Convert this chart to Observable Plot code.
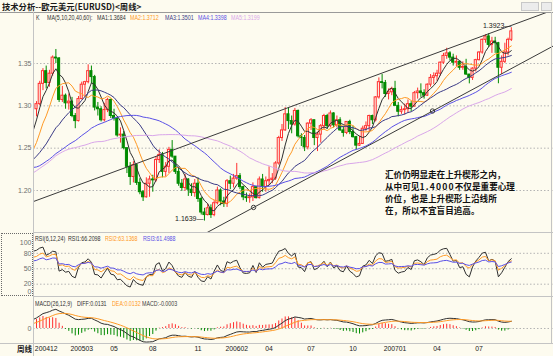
<!DOCTYPE html>
<html><head><meta charset="utf-8">
<script src="https://cdn.jsdelivr.net/npm/d3@7"></script>
<script src="https://cdn.jsdelivr.net/npm/@observablehq/plot@0.6"></script>
<style>
html,body{margin:0;padding:0;background:#fdfbef;}
#root{position:relative;width:553px;height:356px;overflow:hidden;background:#fdfbef;font-family:"Liberation Sans",sans-serif;}
.abs{position:absolute;white-space:nowrap;line-height:1;}
.hl{position:absolute;height:0;border-top:1px solid #c4c4c4;}
.vl{position:absolute;width:0;border-left:1px solid #c4c4c4;}
.leg{position:absolute;white-space:nowrap;line-height:1;font-size:7px;transform:scaleX(0.76);transform-origin:0 0;}
svg{position:absolute;}
</style></head><body><div id="root"></div>
<script>
// ---------- data (weekly EUR/USD) ----------
// closes of the weeks before the first visible candle (warm-up for the indicators)
const leadInClose = [1.1000,1.1250,1.1450,1.1550,1.1650,1.1800,1.1650,1.1700,1.1580,1.1450,1.1700,1.1800,1.1950,1.2200,1.2250,1.2350,1.2450,1.2600,
1.2750,1.2650,1.2500,1.2450,1.2650,1.2800,1.2650,1.2450,1.2200,1.2350,1.2300,1.2200,1.2050,1.2050,1.1950,1.1900,1.1950,1.1950,1.1900,1.2000,1.2200,1.2300,1.2050,1.2150,1.2150,1.2250,1.2400,1.2400,1.2250,1.2100,1.2300,1.2300,1.2300,1.2050,1.2150,1.2200,1.2150,1.2250,1.2400,1.2300,1.2400,1.2550,1.2750,1.2900,1.2950];

const open = [1.2960,1.3020,1.3260,1.3410,1.3270,1.3380,1.3570,
1.3560,1.3070,1.3120,1.3030,1.3050,1.2880,1.2820,1.3080,1.3250,1.3280,
1.3410,1.3340,1.2980,1.2960,1.2830,1.2950,1.3070,1.2880,1.2850,1.2650,
1.2660,1.2500,1.2280,1.2160,1.2300,1.2090,1.1980,1.1920,1.2080,1.2130,
1.2120,1.2360,1.2420,1.2220,1.2280,1.2480,1.2400,1.2220,1.2080,1.2030,
1.2130,1.2010,1.1970,1.2080,1.1900,1.1740,1.1710,1.1790,1.1710,1.1850,1.2000,1.1870,
1.1840,1.2110,1.2080,1.2140,1.2170,1.2040,1.1920,1.1910,1.1920,1.2040,
1.1910,1.2130,1.2040,1.2110,1.2125,1.2140,1.2320,1.2620,1.2710,1.2900,
1.2820,1.2780,1.2940,1.2640,1.2620,1.2510,1.2790,1.2830,1.2620,1.2660,
1.2760,1.2880,1.2760,1.2910,1.2770,1.2830,1.2710,1.2680,1.2810,1.2690,
1.2630,1.2530,1.2550,1.2730,1.2760,1.2880,1.2830,1.3100,1.3280,1.3270,1.3140,1.3160,
1.3200,1.3000,1.2930,1.2950,1.2960,1.3020,1.2990,1.3150,1.3170,1.3150,
1.3120,1.3250,1.3330,1.3350,1.3380,1.3510,1.3590,1.3620,1.3570,1.3510,
1.3520,1.3450,1.3460,1.3370,1.3330,1.3440,1.3540,1.3630,1.3780,1.3820,
1.3720,1.3760,1.3740,1.3450,1.3520,1.3630,1.3780];

const high = [1.3050,1.3290,1.3440,1.3470,1.3420,1.3590,1.3666,
1.3570,1.3230,1.3140,1.3140,1.3100,1.2910,1.3110,1.3280,1.3290,1.3485,
1.3470,1.3360,1.3040,1.2990,1.3030,1.3090,1.3080,1.2960,1.2870,1.2740,
1.2700,1.2500,1.2330,1.2340,1.2310,1.2140,1.2000,1.2150,1.2170,1.2180,
1.2400,1.2480,1.2450,1.2330,1.2510,1.2590,1.2400,1.2270,1.2130,1.2190,
1.2140,1.2080,1.2130,1.2150,1.1920,1.1790,1.1840,1.1830,1.1880,1.2040,1.2020,1.1920,
1.2130,1.2170,1.2190,1.2320,1.2200,1.2050,1.1970,1.1960,1.2090,1.2050,
1.2160,1.2190,1.2160,1.2280,1.2200,1.2340,1.2640,1.2780,1.2980,1.2980,
1.2880,1.2970,1.2950,1.2670,1.2650,1.2800,1.2850,1.2830,1.2690,1.2780,
1.2900,1.2900,1.2940,1.2920,1.2880,1.2860,1.2760,1.2810,1.2830,1.2760,
1.2640,1.2640,1.2760,1.2810,1.2890,1.2890,1.3110,1.3330,1.3370,1.3300,1.3200,1.3220,
1.3290,1.3040,1.2990,1.3020,1.3070,1.3050,1.3170,1.3210,1.3260,1.3190,
1.3260,1.3370,1.3390,1.3420,1.3520,1.3620,1.3680,1.3640,1.3610,1.3590,
1.3530,1.3520,1.3550,1.3370,1.3450,1.3550,1.3640,1.3790,1.3840,1.3852,
1.3810,1.3810,1.3750,1.3590,1.3740,1.3800,1.3923];

const low = [1.2870,1.3000,1.3180,1.3200,1.3220,1.3350,1.3500,
1.3040,1.3040,1.2960,1.2950,1.2860,1.2730,1.2810,1.3070,1.3100,1.3260,
1.3260,1.2940,1.2880,1.2810,1.2810,1.2920,1.2850,1.2820,1.2630,1.2560,
1.2480,1.2200,1.2060,1.2090,1.2060,1.1950,1.1870,1.1910,1.1920,1.1980,
1.2100,1.2320,1.2150,1.2160,1.2200,1.2380,1.2190,1.2050,1.1990,1.1990,
1.1930,1.1930,1.1920,1.1860,1.1710,1.1639,1.1700,1.1670,1.1690,1.1830,1.1820,1.1800,
1.1800,1.2010,1.2030,1.2120,1.2010,1.1880,1.1860,1.1850,1.1870,1.1900,
1.1900,1.1980,1.1980,1.2060,1.2080,1.2120,1.2300,1.2580,1.2700,1.2720,
1.2670,1.2760,1.2620,1.2520,1.2460,1.2480,1.2710,1.2530,1.2460,1.2560,
1.2720,1.2720,1.2740,1.2740,1.2740,1.2700,1.2630,1.2660,1.2660,1.2620,
1.2480,1.2520,1.2550,1.2700,1.2700,1.2780,1.2810,1.3080,1.3200,1.3100,1.3070,1.3120,
1.3000,1.2870,1.2900,1.2890,1.2910,1.2930,1.2990,1.3080,1.3100,1.3080,
1.3110,1.3220,1.3250,1.3290,1.3350,1.3490,1.3550,1.3530,1.3470,1.3460,
1.3420,1.3420,1.3360,1.3260,1.3300,1.3400,1.3530,1.3610,1.3740,1.3690,
1.3620,1.3620,1.3261,1.3370,1.3500,1.3590,1.3760];

const close = [1.3020,1.3260,1.3410,1.3270,1.3380,1.3570,1.3560,
1.3070,1.3120,1.3030,1.3050,1.2880,1.2820,1.3080,1.3250,1.3280,1.3410,
1.3340,1.2980,1.2960,1.2830,1.2950,1.3070,1.2880,1.2850,1.2650,1.2660,
1.2500,1.2280,1.2160,1.2300,1.2090,1.1980,1.1920,1.2080,1.2130,1.2120,
1.2360,1.2420,1.2220,1.2280,1.2480,1.2400,1.2220,1.2080,1.2030,1.2130,
1.2010,1.1970,1.2080,1.1900,1.1740,1.1710,1.1790,1.1710,1.1850,1.2000,1.1870,1.1840,
1.2110,1.2080,1.2140,1.2170,1.2040,1.1920,1.1910,1.1920,1.2040,1.1910,
1.2130,1.2040,1.2110,1.2125,1.2140,1.2320,1.2620,1.2710,1.2900,1.2820,
1.2780,1.2940,1.2640,1.2620,1.2510,1.2790,1.2830,1.2620,1.2660,1.2760,
1.2880,1.2760,1.2910,1.2770,1.2830,1.2710,1.2680,1.2810,1.2690,1.2630,
1.2530,1.2550,1.2730,1.2760,1.2880,1.2830,1.3100,1.3280,1.3270,1.3140,1.3160,1.3200,
1.3000,1.2930,1.2950,1.2960,1.3020,1.2990,1.3150,1.3170,1.3150,1.3120,
1.3250,1.3330,1.3350,1.3380,1.3510,1.3590,1.3620,1.3570,1.3510,1.3520,
1.3450,1.3460,1.3370,1.3330,1.3440,1.3540,1.3630,1.3780,1.3820,1.3720,
1.3760,1.3740,1.3450,1.3520,1.3630,1.3780,1.3880];

const priceTicks = [1.20, 1.25, 1.30, 1.35];
const rsiTicks = [100, 80, 50, 20];
const rsiBottomTick = [0];
const rsiGrid = [80, 50, 20];
const tickIdx = [3, 14, 24, 36, 50, 62, 72, 85, 98, 111, 124, 137];
const tickLabels = ["200412","200503","05","08","11","200602","04","07","10","200701","04","07"];
const maPeriods = [5, 10, 20, 40, 60];
const maColors = ["#303030", "#ff9a26", "#3a3a86", "#5a50e6", "#d9a6ea"];
const maLegend = ["MA1:1.3684", "MA2:1.3712", "MA3:1.3501", "MA4:1.3398", "MA5:1.3199"];
const rsiPeriods = [6, 12, 24];
const rsiColors = ["#303030", "#ff9a26", "#5a50e6"];
const rsiLegend = ["RSI1:66.2098", "RSI2:63.1368", "RSI3:61.4988"];
const macdLegend = ["DIFF:0.0131", "DEA:0.0132", "MACD:-0.0003"];
const macdColors = ["#303030", "#ff9a26", "#404040"];
// trend lines drawn on the chart (week index, price)
const trendLines = [
  {i1: -1, p1: 1.1869, i2: 158, p2: 1.4105},
  {i1: 52, p1: 1.1487, i2: 161, p2: 1.3728}
];
const anchors = [{i: 67.2, p: 1.1800}, {i: 122.6, p: 1.2939}];
const noteLines = ["汇价仍明显走在上升楔形之内，", "从中可见1.4000不仅是重要心理", "价位，也是上升楔形上沿线所", "在，所以不宜盲目追高。"];

// ---------- layout ----------
const BG = "#fdfbef", RED = "#ff3030", GREEN = "#008a00";
const X_DOMAIN = [-0.93, 160.06];
const root = document.getElementById("root");
const N = close.length, L = leadInClose.length;
const idx = d3.range(N);
const allClose = leadInClose.concat(close);
const allIdx = d3.range(-L, N);

// indicators (same definitions as the charting software)
function sma(arr, n, m){ let y; return arr.map((x,i)=> (y = i===0 ? x : (m*x + (n-m)*y)/n)); }
function ema(arr, n){ let y; return arr.map((x,i)=> (y = i===0 ? x : (2*x + (n-1)*y)/(n+1))); }
const chg = allClose.map((c,i)=> i===0 ? 0 : c - allClose[i-1]);
const rsi = rsiPeriods.map(n=>{
  const u = sma(chg.map(d=>Math.max(d,0)), n, 1), a = sma(chg.map(Math.abs), n, 1);
  return u.map((v,i)=> a[i] === 0 ? 50 : v/a[i]*100);
});
const e12 = ema(allClose, 12), e26 = ema(allClose, 26);
const diff = e12.map((v,i)=> v - e26[i]);
const dea = ema(diff, 9);
const macd = diff.map((v,i)=> 2*(v - dea[i]));

function place(el, left, top){ el.style.left = left+"px"; el.style.top = top+"px"; root.appendChild(el); return el; }
function div(cls, html, left, top, style){ const d = document.createElement("div"); d.className = cls; d.innerHTML = html; if (style) d.style.cssText += style; return place(d, left, top); }

const up = i => close[i] >= open[i];

// main price panel
const mainPlot = Plot.plot({
  width: 553, height: 219, marginLeft: 33, marginRight: 0, marginTop: 0, marginBottom: 0,
  x: {domain: X_DOMAIN, axis: null},
  y: {domain: [1.1504, 1.4091], axis: null},
  style: {background: "transparent", fontFamily: "Liberation Sans", fontSize: "7px"},
  marks: [
    Plot.gridY(priceTicks, {stroke: "#b4b4b4", strokeOpacity: 1, strokeDasharray: "1.5,2"}),
    Plot.axisY(priceTicks, {tickSize: 0, tickPadding: 2, tickFormat: d => d.toFixed(2), fill: "#6e6e6e"}),
    Plot.ruleX(idx, {x: i => i, y1: i => low[i], y2: i => high[i], stroke: i => up(i) ? RED : GREEN, strokeWidth: 1}),
    Plot.rect(idx, {x1: i => i - 0.32, x2: i => i + 0.32, y1: i => open[i], y2: i => close[i],
      fill: i => up(i) ? BG : GREEN, stroke: i => up(i) ? RED : GREEN, strokeWidth: 1}),
    ...maPeriods.map((k, m) => Plot.lineY(allIdx, Plot.windowY({k, anchor: "end"},
      {x: d => d, y: d => allClose[d + L], stroke: maColors[m], strokeWidth: 1, clip: true}))),
    Plot.link(trendLines, {x1: "i1", y1: "p1", x2: "i2", y2: "p2", stroke: "#3a3a3a", strokeWidth: 1, clip: true}),
    Plot.dot(anchors, {x: "i", y: "p", r: 2.2, stroke: "#3a3a3a", fill: "none", strokeWidth: 1}),
    Plot.text([d3.minIndex(low)], {x: i => i, y: i => low[i], text: i => low[i].toFixed(4) + "—",
      textAnchor: "end", dx: -1, dy: -2, fontSize: 7, fill: "#202020"}),
    Plot.text([d3.maxIndex(high)], {x: i => i, y: i => high[i], text: i => high[i].toFixed(4) + "—",
      textAnchor: "end", dx: 0, dy: -2, fontSize: 7, fill: "#202020"})
  ]
});
place(mainPlot, 0, 13);

// RSI panel
const rsiPlot = Plot.plot({
  width: 553, height: 63, marginLeft: 33, marginRight: 0, marginTop: 9.5, marginBottom: 2,
  x: {domain: X_DOMAIN, axis: null},
  y: {domain: [0, 100], axis: null},
  style: {background: "transparent", fontFamily: "Liberation Sans", fontSize: "7px"},
  marks: [
    Plot.gridY(rsiGrid, {stroke: "#b4b4b4", strokeOpacity: 1, strokeDasharray: "1.5,2"}),
    Plot.axisY(rsiTicks, {tickSize: 0, tickPadding: 2, fill: "#6e6e6e"}),
    Plot.text(rsiBottomTick, {frameAnchor: "left", y: d => d, text: d => String(d), textAnchor: "end", dx: -2, dy: -3, fill: "#6e6e6e", fontSize: 7}),
    ...rsi.map((r, m) => Plot.lineY(allIdx, {x: d => d, y: d => r[d + L], stroke: rsiColors[m], strokeWidth: 1, clip: true}))
  ]
});
place(rsiPlot, 0, 233);

// MACD panel + time axis
const macdPlot = Plot.plot({
  width: 553, height: 60, marginLeft: 33, marginRight: 0, marginTop: 0, marginBottom: 13,
  x: {domain: X_DOMAIN, axis: null},
  y: {domain: [-0.0268, 0.0571], axis: null},
  style: {background: "transparent", fontFamily: "Liberation Sans", fontSize: "6.8px"},
  marks: [
    Plot.ruleY([0], {stroke: "#b4b4b4", strokeDasharray: "1.5,2"}),
    Plot.axisY([0], {tickSize: 0, tickPadding: 2, tickFormat: d => String(d), fill: "#6e6e6e", fontSize: 7}),
    Plot.ruleX(idx, {x: i => i, y1: 0, y2: i => macd[i + L], stroke: i => macd[i + L] >= 0 ? RED : GREEN, strokeWidth: 1, clip: true}),
    Plot.lineY(allIdx, {x: d => d, y: d => diff[d + L], stroke: macdColors[0], strokeWidth: 1, clip: true}),
    Plot.lineY(allIdx, {x: d => d, y: d => dea[d + L], stroke: macdColors[1], strokeWidth: 1, clip: true}),
    Plot.axisX(tickIdx, {tickSize: 0, tickPadding: 3, tickFormat: (d, i) => tickLabels[i], fill: "#202020"})
  ]
});
place(macdPlot, 0, 296);

// frames
div("hl", "", 0, 12, "width:553px;border-top-color:#9a9a9a;");
div("vl", "", 33, 12, "height:344px;");
div("vl", "", 551, 12, "height:331px;");
div("hl", "", 33, 232, "width:520px;");
div("hl", "", 33, 296, "width:520px;");
div("hl", "", 0, 343, "width:553px;");
div("abs", "", 1, 233, "width:30px;height:61px;border:1px dotted #6a6a6a;");
div("abs", "", 521, 2, "width:16px;height:7px;border:1px solid #c8c8c8;background:#ececec;");
div("abs", "", 541, 2, "width:9px;height:7px;border:1px solid #c8c8c8;background:#ececec;");

// title and legends
div("abs", "技术分析--欧元美元(EURUSD)&lt;周线&gt;", 2, 2, "font-family:'Noto Sans CJK SC';font-size:8.3px;font-weight:700;color:#1a1a1a;");
div("leg", "K", 36, 13.5, "color:#303030;");
div("leg", "MA(5,10,20,40,60):", 47, 13.5, "color:#303030;");
const maLeft = [97, 130, 165, 198, 231];
maLegend.forEach((t, m) => div("leg", t, maLeft[m], 13.5, "color:" + maColors[m] + ";"));
div("leg", "RSI(6,12,24)", 35, 234.5, "color:#303030;");
const rsiLeft = [68, 105, 143];
rsiLegend.forEach((t, m) => div("leg", t, rsiLeft[m], 234.5, "color:" + rsiColors[m] + ";"));
div("leg", "MACD(26,12,9)", 35, 299.5, "color:#303030;");
const macdLeft = [77, 112, 142];
macdLegend.forEach((t, m) => div("leg", t, macdLeft[m], 299.5, "color:" + macdColors[m] + ";"));
div("abs", "周线", 17, 345, "font-family:'Noto Sans CJK SC';font-size:7.5px;font-weight:700;color:#202020;");

// note
noteLines.forEach((t, k) => div("abs", t.replace("1.4000", "<span style='letter-spacing:1.2px'>1.4000</span>"), 385, 169.5 + k*12.3,
  "font-family:'Noto Sans CJK SC';font-size:8.6px;font-weight:700;color:#111;"));
</script></body></html>
